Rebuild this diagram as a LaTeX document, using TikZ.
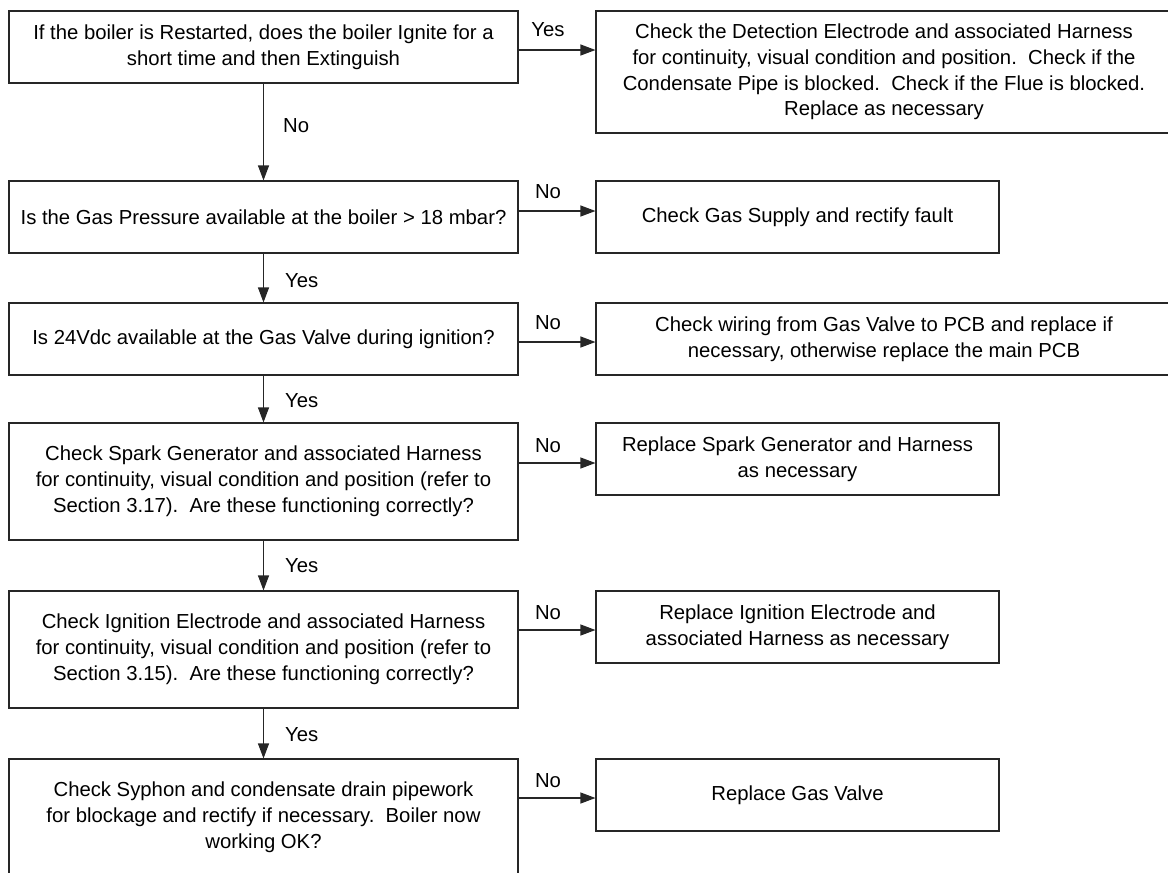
\documentclass[tikz,border=0pt]{standalone}
\usepackage{fontspec}
\setmainfont{Liberation Sans}
\usetikzlibrary{arrows.meta}
\begin{document}
\begin{tikzpicture}[x=1pt,y=-1pt,
  every node/.style={font=\fontsize{20.3}{25.8}\selectfont, text=black},
  qbox/.style={draw=black!85, line width=1.1pt, rectangle, inner sep=0pt, align=center, minimum width=509pt},
  abox/.style={draw=black!85, line width=1.1pt, rectangle, inner sep=0pt, align=center},
  arr/.style={draw=black!85, line width=1.1pt, -{Triangle[length=15pt,width=11pt]}},
  lbl/.style={inner sep=0pt}
]
\useasboundingbox (0,0) rectangle (1168,873);
\clip (0,0) rectangle (1168,873);

% left column
\node[qbox, minimum height=72pt] (b1) at (263.5,47) {If the boiler is Restarted, does the boiler Ignite for a\\short time and then Extinguish};
\node[qbox, minimum height=72pt] (b2) at (263.5,217) {Is the Gas Pressure available at the boiler > 18 mbar?};
\node[qbox, minimum height=72pt] (b3) at (263.5,339) {Is 24Vdc available at the Gas Valve during ignition?};
\node[qbox, minimum height=117pt] (b4) at (263.5,481.5) {Check Spark Generator and associated Harness\\for continuity, visual condition and position (refer to\\Section 3.17).\ \ Are these functioning correctly?};
\node[qbox, minimum height=117pt] (b5) at (263.5,649.5) {Check Ignition Electrode and associated Harness\\for continuity, visual condition and position (refer to\\Section 3.15).\ \ Are these functioning correctly?};
\node[qbox, minimum height=117pt] (b6) at (263.5,817.5) {Check Syphon and condensate drain pipework\\for blockage and rectify if necessary.\ \ Boiler now\\working OK?};

% right column
\node[abox, minimum width=576pt, minimum height=122pt] (r1) at (884,72) {Check the Detection Electrode and associated Harness\\for continuity, visual condition and position.\ \ Check if the\\Condensate Pipe is blocked.\ \ Check if the Flue is blocked.\\Replace as necessary};
\node[abox, minimum width=403pt, minimum height=72pt] (r2) at (797.5,217) {Check Gas Supply and rectify fault};
\node[abox, minimum width=576pt, minimum height=72pt] (r3) at (884,339) {Check wiring from Gas Valve to PCB and replace if\\necessary, otherwise replace the main PCB};
\node[abox, minimum width=403pt, minimum height=72pt] (r4) at (797.5,459) {Replace Spark Generator and Harness\\as necessary};
\node[abox, minimum width=403pt, minimum height=72pt] (r5) at (797.5,627) {Replace Ignition Electrode and\\associated Harness as necessary};
\node[abox, minimum width=403pt, minimum height=72pt] (r6) at (797.5,795) {Replace Gas Valve};

% vertical connectors
\draw[arr] (b1.south) -- (b2.north);
\draw[arr] (b2.south) -- (b3.north);
\draw[arr] (b3.south) -- (b4.north);
\draw[arr] (b4.south) -- (b5.north);
\draw[arr] (b5.south) -- (b6.north);

% horizontal connectors
\draw[arr] (b1.east |- 0,50) -- (r1.west |- 0,50);
\draw[arr] (b2.east |- 0,211) -- (r2.west |- 0,211);
\draw[arr] (b3.east |- 0,342) -- (r3.west |- 0,342);
\draw[arr] (b4.east |- 0,463) -- (r4.west |- 0,463);
\draw[arr] (b5.east |- 0,630) -- (r5.west |- 0,630);
\draw[arr] (b6.east |- 0,798) -- (r6.west |- 0,798);

% labels on vertical connectors
\node[lbl, anchor=west] (l1) at (283,126) {No};
\node[lbl, anchor=west] (l2) at (285,281) {Yes};
\node[lbl, anchor=west] (l3) at (285,400.5) {Yes};
\node[lbl, anchor=west] (l4) at (285,565.5) {Yes};
\node[lbl, anchor=west] (l5) at (285,734.5) {Yes};

% labels on horizontal connectors
\node[lbl, anchor=base] (h1) at (548,36) {Yes};
\node[lbl, anchor=base] (h2) at (548,198) {No};
\node[lbl, anchor=base] (h3) at (548,329) {No};
\node[lbl, anchor=base] (h4) at (548,452) {No};
\node[lbl, anchor=base] (h5) at (548,619) {No};
\node[lbl, anchor=base] (h6) at (548,787) {No};
\end{tikzpicture}
\end{document}
